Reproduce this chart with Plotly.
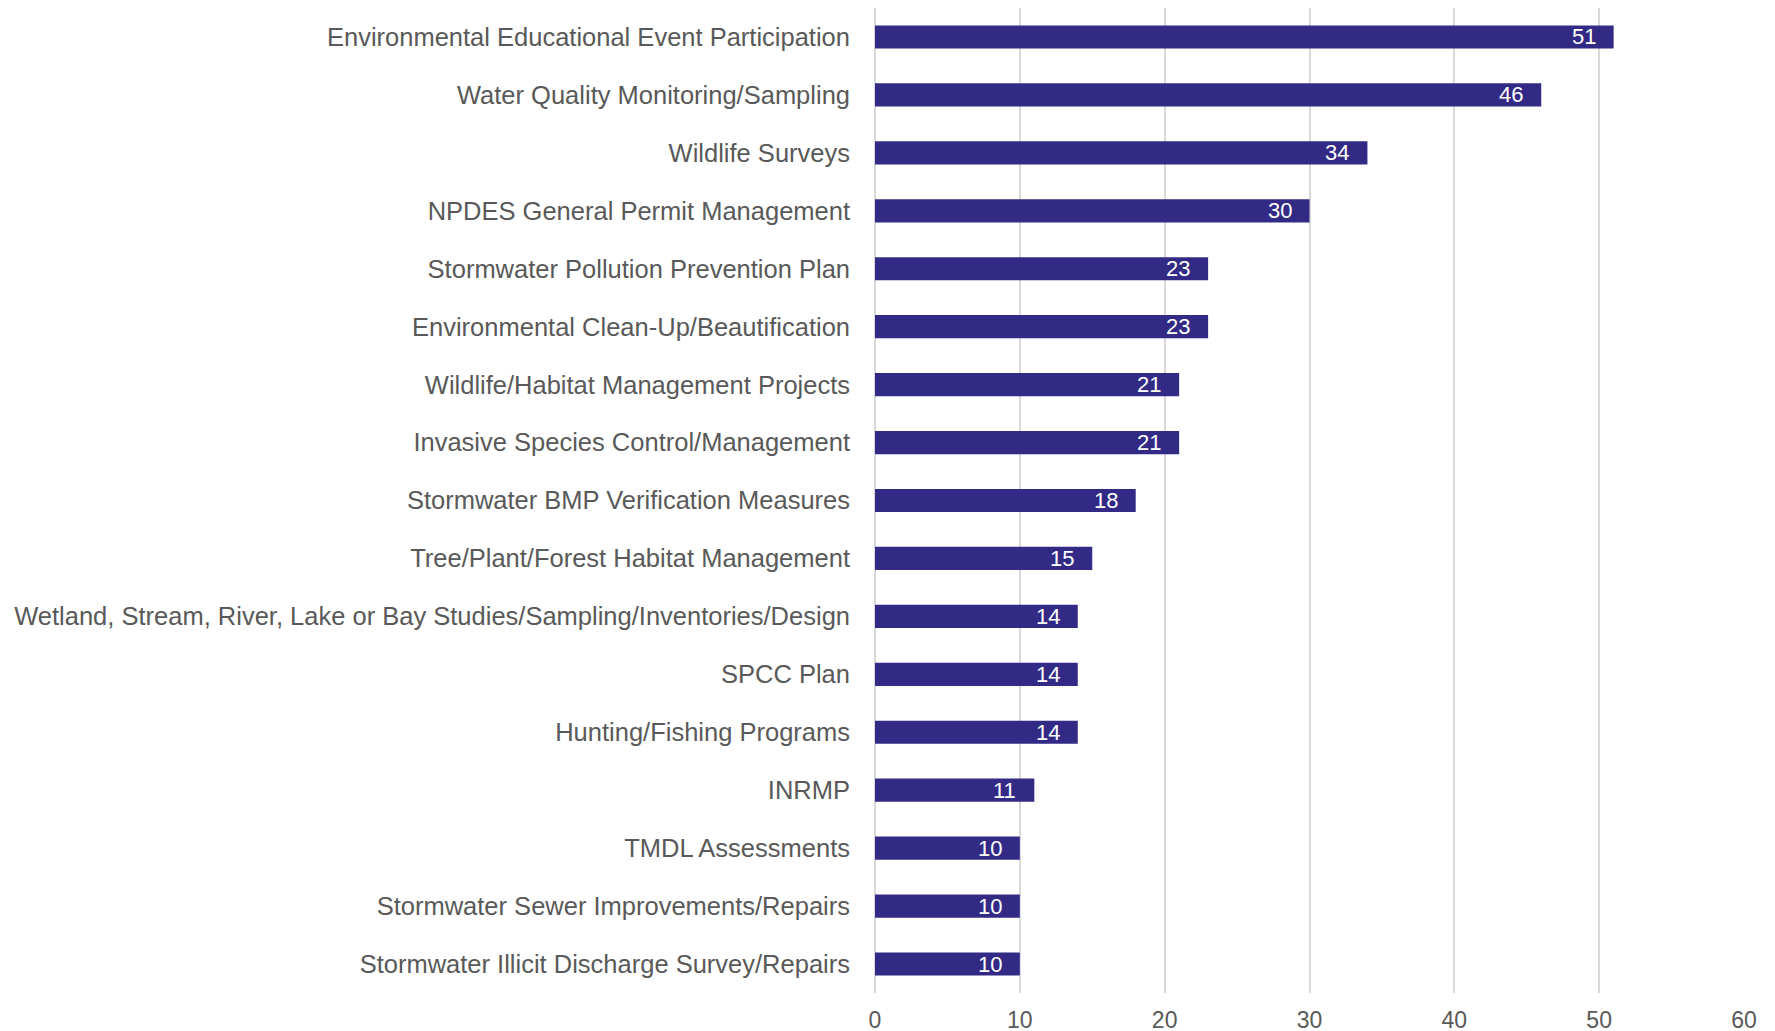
import plotly.graph_objects as go

categories = [
    "Environmental Educational Event Participation",
    "Water Quality Monitoring/Sampling",
    "Wildlife Surveys",
    "NPDES General Permit Management",
    "Stormwater Pollution Prevention Plan",
    "Environmental Clean-Up/Beautification",
    "Wildlife/Habitat Management Projects",
    "Invasive Species Control/Management",
    "Stormwater BMP Verification Measures",
    "Tree/Plant/Forest Habitat Management",
    "Wetland, Stream, River, Lake or Bay Studies/Sampling/Inventories/Design",
    "SPCC Plan",
    "Hunting/Fishing Programs",
    "INRMP",
    "TMDL Assessments",
    "Stormwater Sewer Improvements/Repairs",
    "Stormwater Illicit Discharge Survey/Repairs",
]
values = [51, 46, 34, 30, 23, 23, 21, 21, 18, 15, 14, 14, 14, 11, 10, 10, 10]
x_ticks = [0, 10, 20, 30, 40, 50, 60]

FONT = "Liberation Sans"
GRAY = "#595959"
GRID = "#D9D9D9"

fig = go.Figure(
    go.Bar(
        x=values,
        y=categories,
        orientation="h",
        marker=dict(color="#332A86", line=dict(width=0)),
        hoverinfo="x+y",
    )
)

for cat, v in zip(categories, values):
    fig.add_annotation(
        x=v,
        y=cat,
        text=str(v),
        showarrow=False,
        xanchor="right",
        yanchor="middle",
        xshift=-16,
        yshift=0,
        font=dict(color="white", size=22, family=FONT),
    )

fig.update_layout(
    width=1775,
    height=1031,
    margin=dict(l=867, r=39, t=0, b=46),
    plot_bgcolor="white",
    paper_bgcolor="white",
    bargap=0.6,
    showlegend=False,
    font=dict(family=FONT, color=GRAY, size=25),
)
fig.update_xaxes(
    range=[0, 60],
    tickvals=x_ticks,
    showgrid=True,
    gridcolor=GRID,
    gridwidth=1.5,
    zeroline=True,
    zerolinecolor=GRID,
    zerolinewidth=1.5,
    showline=False,
    ticks="",
    ticklabelstandoff=11,
    tickfont=dict(size=23, color=GRAY, family=FONT),
)
fig.update_yaxes(
    autorange="reversed",
    showgrid=False,
    showline=False,
    ticks="",
    ticklabelstandoff=24,
    tickfont=dict(size=25.5, color=GRAY, family=FONT),
)

fig.write_html("out.html")
